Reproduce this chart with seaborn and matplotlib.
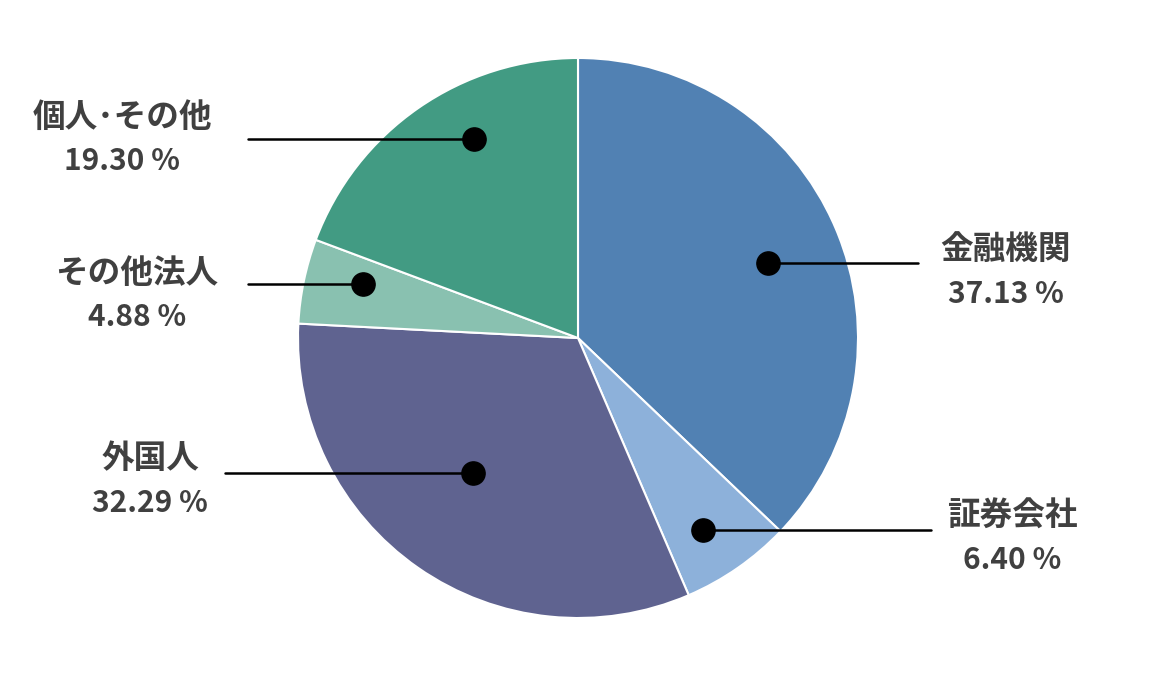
import numpy as np
import seaborn as sns
import matplotlib.pyplot as plt

# 株主構成（時計回り、上から）
categories = ['金融機関', '証券会社', '外国人', 'その他法人', '個人･その他']
shares = [37.13, 6.40, 32.29, 4.88, 19.30]
colors = ['#5181B3', '#8DB1DA', '#5F6390', '#89C1B0', '#429B83']

# ラベル配置（点の半径比、角度ずれ、テキスト中心x、線の終端x、テキストの下方向ずれ）
dot_r = [0.73, 0.82, 0.61, 0.79, 0.80]
dot_shift = [1.6, 1.7, 3.2, 2.3, 7.2]
text_x = [1006, 1012, 150, 137, 122]
line_end = [918, 931, 225, 248, 248]
text_dy = [9, 8, 8, 11, 0]

sns.set_theme(style="white")
plt.rcParams['font.family'] = ['Noto Sans CJK JP', 'DejaVu Sans']

W, H = 1158, 676
cx, cy, R = 578, 338, 280

fig = plt.figure(figsize=(W / 100, H / 100), dpi=100)
ax = fig.add_axes([0, 0, 1, 1])

wedges, _ = ax.pie(shares, colors=colors, startangle=90, counterclock=False,
                   center=(cx, cy), radius=R, frame=False,
                   wedgeprops=dict(edgecolor='white', linewidth=1.5))

for i, w in enumerate(wedges):
    mid = np.deg2rad((w.theta1 + w.theta2) / 2 - dot_shift[i])
    px = cx + dot_r[i] * R * np.cos(mid)
    py = cy + dot_r[i] * R * np.sin(mid)
    ax.plot([px, line_end[i]], [py, py], color='black', linewidth=1.8, zorder=3)
    ax.scatter([px], [py], s=280, color='black', zorder=4)
    ty = py - text_dy[i]
    ax.text(text_x[i], ty + 22, categories[i], ha='center', va='center',
            fontsize=23.5, fontweight='bold', color='#404040')
    ax.text(text_x[i], ty - 22, f'{shares[i]:.2f} %', ha='center', va='center',
            fontsize=21.5, fontweight='bold', color='#404040')

ax.set_xlim(0, W)
ax.set_ylim(0, H)
ax.set_aspect('equal')
ax.axis('off')

fig.savefig('out.png', dpi=100)
